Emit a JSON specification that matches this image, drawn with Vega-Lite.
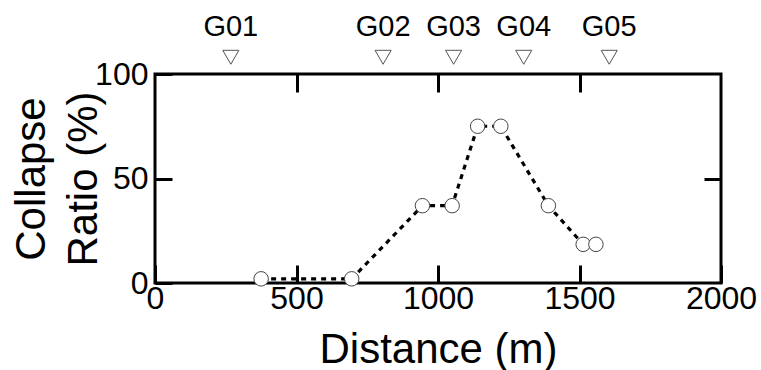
{
  "$schema": "https://vega.github.io/schema/vega-lite/v6.json",
  "width": 566,
  "height": 209,
  "autosize": {"type": "none"},
  "padding": {"left": 155, "top": 74, "right": 40, "bottom": 87},
  "background": "white",
  "config": {
    "view": {"stroke": "black", "strokeWidth": 3},
    "font": "Liberation Sans",
    "axis": {
      "domain": false,
      "grid": false,
      "ticks": true,
      "tickColor": "black",
      "tickWidth": 3,
      "tickSize": -17,
      "zindex": 1,
      "labelColor": "black",
      "titleColor": "black",
      "labelFontWeight": "normal",
      "titleFontWeight": "normal",
      "labelFont": "Liberation Sans",
      "titleFont": "Liberation Sans"
    }
  },
  "datasets": {
    "pts": [
      {"distance": 375, "ratio": 2},
      {"distance": 695, "ratio": 2},
      {"distance": 945, "ratio": 37},
      {"distance": 1050, "ratio": 37},
      {"distance": 1140, "ratio": 75},
      {"distance": 1222, "ratio": 75},
      {"distance": 1390, "ratio": 37},
      {"distance": 1513, "ratio": 18.5},
      {"distance": 1558, "ratio": 18.5}
    ],
    "gauges": [
      {"distance": 268, "label": "G01"},
      {"distance": 806, "label": "G02"},
      {"distance": 1055, "label": "G03"},
      {"distance": 1303, "label": "G04"},
      {"distance": 1605, "label": "G05"}
    ]
  },
  "layer": [
    {
      "data": {"name": "pts"},
      "mark": {"type": "line", "color": "black", "strokeWidth": 3.2, "strokeDash": [5, 5]},
      "encoding": {
        "x": {
          "field": "distance", "type": "quantitative",
          "scale": {"domain": [0, 2000], "nice": false},
          "axis": {
            "orient": "bottom", "values": [0, 500, 1000, 1500, 2000], "format": "d",
            "tickSize": -18,
            "labelFontSize": 32, "labelPadding": 18, "labelFlush": false, "labelOverlap": false,
            "title": "Distance (m)", "titleFontSize": 42, "titleBaseline": "alphabetic",
            "titleY": 79, "titleX": 283
          }
        },
        "y": {
          "field": "ratio", "type": "quantitative",
          "scale": {"domain": [0, 100], "nice": false},
          "axis": {
            "orient": "left", "values": [0, 50, 100], "format": "d",
            "labelFontSize": 32, "labelPadding": 24, "labelFlush": false, "labelOverlap": false,
            "title": ["Collapse", "Ratio (%)"], "titleFontSize": 42, "titleLineHeight": 52,
            "titleBaseline": "alphabetic", "titleAngle": 270, "titleAlign": "center",
            "titleX": -111, "titleY": 104.5
          }
        }
      }
    },
    {
      "data": {"name": "pts"},
      "mark": {"type": "point", "shape": "circle", "filled": true, "fill": "white", "stroke": "#444", "strokeWidth": 1, "size": 210, "opacity": 1},
      "encoding": {
        "x": {
          "field": "distance", "type": "quantitative",
          "axis": {"orient": "top", "values": [500, 1000, 1500], "labels": false, "title": null, "tickSize": -18}
        },
        "y": {
          "field": "ratio", "type": "quantitative",
          "axis": {"orient": "right", "values": [50], "labels": false, "title": null}
        }
      }
    },
    {
      "data": {"name": "gauges"},
      "mark": {"type": "point", "shape": "triangle-down", "filled": false, "stroke": "#555", "strokeWidth": 1, "size": 260, "opacity": 1},
      "encoding": {
        "x": {"field": "distance", "type": "quantitative", "axis": null},
        "y": {"datum": 108, "type": "quantitative", "axis": null}
      }
    },
    {
      "data": {"name": "gauges"},
      "mark": {"type": "text", "fontSize": 29, "baseline": "alphabetic", "align": "center", "color": "black", "font": "Liberation Sans"},
      "encoding": {
        "x": {"field": "distance", "type": "quantitative", "axis": null},
        "y": {"datum": 118, "type": "quantitative", "axis": null},
        "text": {"field": "label"}
      }
    }
  ],
  "resolve": {"axis": {"x": "independent", "y": "independent"}}
}
